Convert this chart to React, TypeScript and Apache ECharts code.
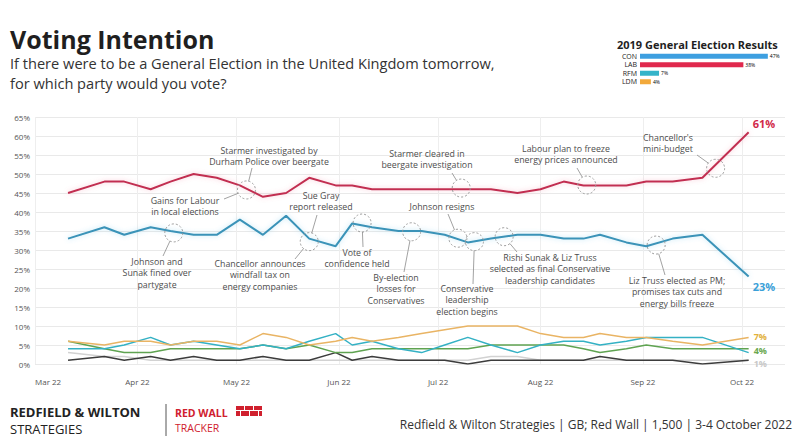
import React, { useEffect, useRef } from "react";
import * as echarts from "echarts";

// ---------- data ----------
const pollDates = [
  "2022-03-11", "2022-03-22", "2022-03-28", "2022-04-05", "2022-04-11", "2022-04-18",
  "2022-04-25", "2022-05-02", "2022-05-09", "2022-05-16", "2022-05-23", "2022-05-31",
  "2022-06-05", "2022-06-11", "2022-06-19", "2022-06-26", "2022-07-03", "2022-07-10",
  "2022-07-17", "2022-07-25", "2022-08-01", "2022-08-08", "2022-08-14", "2022-08-19",
  "2022-08-27", "2022-09-02", "2022-09-10", "2022-09-19", "2022-10-03",
];
const LAB = [45, 48, 48, 46, 48, 50, 49, 47, 44, 45, 49, 47, 47, 46, 46, 46, 46, 46, 46, 45, 46, 48, 47, 47, 47, 48, 48, 49, 61];
const CON = [33, 36, 34, 36, 35, 34, 34, 38, 34, 39, 33, 31, 37, 36, 35, 35, 34, 32, 33, 34, 34, 33, 33, 34, 32, 31, 33, 34, 23];
const LDM = [6, 5, 6, 6, 5, 6, 6, 5, 8, 7, 5, 6, 7, 6, 7, 8, 9, 10, 10, 10, 8, 7, 7, 8, 7, 7, 6, 5, 7];
const GRN = [6, 4, 3, 3, 4, 4, 4, 4, 5, 4, 5, 3, 3, 4, 4, 4, 4, 4, 5, 5, 5, 5, 4, 3, 4, 5, 4, 4, 4];
const RFM = [4, 4, 5, 7, 5, 6, 5, 4, 5, 4, 6, 8, 5, 6, 4, 3, 5, 7, 5, 3, 5, 6, 6, 5, 6, 7, 7, 7, 3];
const OTH = [1, 2, 1, 2, 1, 2, 1, 1, 2, 1, 1, 3, 1, 2, 1, 1, 1, 0, 1, 1, 1, 1, 1, 2, 1, 1, 1, 0, 1];
const OTH2 = [3, 2, 2, 1, 1, 1, 1, 1, 1, 1, 1, 1, 1, 1, 1, 1, 1, 1, 2, 2, 1, 1, 1, 1, 1, 1, 1, 1, 1];

const monthStarts = ["2022-03-01", "2022-04-01", "2022-05-01", "2022-06-01", "2022-07-01", "2022-08-01", "2022-09-01", "2022-10-01"];
const monthLabels = ["Mar 22", "Apr 22", "May 22", "Jun 22", "Jul 22", "Aug 22", "Sep 22", "Oct 22"];
const axisEndDate = "2022-10-14";

const ge2019Parties = ["CON", "LAB", "RFM", "LDM"];
const ge2019Values = [47, 38, 7, 4];
const ge2019Colors = ["#3d9fe0", "#e0294d", "#35b4c9", "#f2a93b"];

const annotations = [
  { lines: ["Starmer investigated by", "Durham Police over beergate"], tx: 269, ty: 146, from: [252, 168], date: "2022-05-04", value: 45.8, circle: true },
  { lines: ["Gains for Labour", "in local elections"], tx: 185, ty: 196, from: [224, 199], date: "2022-05-04", value: 45.8, circle: false },
  { lines: ["Johnson and", "Sunak fined over", "partygate"], tx: 157, ty: 257, from: [163, 256], date: "2022-04-12", value: 34.5, circle: true },
  { lines: ["Chancellor announces", "windfall tax on", "energy companies"], tx: 260, ty: 259, from: [295, 259], date: "2022-05-23", value: 32.2, circle: true },
  { lines: ["Sue Gray", "report released"], tx: 321, ty: 191, from: [317, 215], date: "2022-05-23", value: 32.2, circle: false },
  { lines: ["Vote of", "confidence held"], tx: 357, ty: 248, from: [363, 247], date: "2022-06-08", value: 37.1, circle: true },
  { lines: ["By-election", "losses for", "Conservatives"], tx: 396, ty: 273, from: [404, 272], date: "2022-06-23", value: 34.8, circle: true },
  { lines: ["Starmer cleared in", "beergate investigation"], tx: 427, ty: 149, from: [452, 173], date: "2022-07-08", value: 46.3, circle: true },
  { lines: ["Johnson resigns"], tx: 442, ty: 202, from: [448, 214], date: "2022-07-07", value: 33.1, circle: true },
  { lines: ["Conservative", "leadership", "election begins"], tx: 467, ty: 284, from: [473, 284], date: "2022-07-12", value: 32.2, circle: true },
  { lines: ["Rishi Sunak & Liz Truss", "selected as final Conservative", "leadership candidates"], tx: 550, ty: 253, from: [517, 252], date: "2022-07-21", value: 33.5, circle: true },
  { lines: ["Labour plan to freeze", "energy prices announced"], tx: 566, ty: 144, from: [577, 168], date: "2022-08-15", value: 47.1, circle: true },
  { lines: ["Liz Truss elected as PM;", "promises tax cuts and", "energy bills freeze"], tx: 677, ty: 276, from: [665, 275], date: "2022-09-05", value: 31.3, circle: true },
  { lines: ["Chancellor's", "mini-budget"], tx: 668, ty: 133, from: [697, 155], date: "2022-09-23", value: 51.5, circle: true },
];

// ---------- helpers ----------
const BASE = Date.UTC(2022, 2, 1);
const dayOf = (s: string) => {
  const [y, m, d] = s.split("-").map(Number);
  return Math.round((Date.UTC(y, m - 1, d) - BASE) / 86400000);
};
const pollDays = pollDates.map(dayOf);
const monthDays = monthStarts.map(dayOf);
const FONT = "'Open Sans', 'DejaVu Sans', sans-serif";

const lineSeries = (
  name: string,
  values: number[],
  color: string,
  width: number,
  z: number,
  shadow?: string,
  endLabel?: { color: string; offset: number[]; size: number }
) => ({
  type: "line",
  name,
  xAxisIndex: 0,
  yAxisIndex: 0,
  data: pollDays.map((d, i) => [d, values[i]]),
  symbol: "none",
  z,
  lineStyle: {
    color,
    width,
    ...(shadow ? { shadowColor: shadow, shadowBlur: 5 } : {}),
  },
  endLabel: endLabel
    ? {
        show: true,
        formatter: (p: any) => `${p.value[1]}%`,
        color: endLabel.color,
        fontSize: endLabel.size,
        lineHeight: endLabel.size,
        fontWeight: "bold",
        fontFamily: FONT,
        offset: endLabel.offset,
      }
    : { show: false },
});

const txt = (text: string, x: number, y: number, size: number, fill: string, extra: any = {}) => ({
  type: "text",
  style: { text, x, y, verticalAlign: "middle", fontSize: size, lineHeight: size, fontFamily: FONT, fill, ...extra },
});

export default function App() {
  const ref = useRef<HTMLDivElement>(null);

  useEffect(() => {
    if (!ref.current) return;
    const chart = echarts.init(ref.current, undefined, { renderer: "svg" });

    const staticGraphics: any[] = [
      txt("Voting Intention", 10, 39, 25, "#1f1f1f", { fontWeight: "bold" }),
      txt("If there were to be a General Election in the United Kingdom tomorrow,", 10, 63, 14.6, "#333"),
      txt("for which party would you vote?", 10, 82.5, 14.6, "#333"),
      txt("2019 General Election Results", 617, 44, 11, "#1f1f1f", { fontWeight: "bold" }),
      // footer
      txt("REDFIELD & WILTON", 10, 412, 13, "#222", { fontWeight: "bold" }),
      txt("STRATEGIES", 10, 428.5, 13, "#222"),
      { type: "line", shape: { x1: 166, y1: 404, x2: 166, y2: 436 }, style: { stroke: "#555", lineWidth: 1 } },
      txt("RED WALL", 175, 413, 10.5, "#d0202e", { fontWeight: "bold" }),
      txt("TRACKER", 175, 428, 10.5, "#d0202e"),
      { type: "rect", shape: { x: 236, y: 406, width: 8, height: 4 }, style: { fill: "#d0202e" } },
      { type: "rect", shape: { x: 245, y: 406, width: 8, height: 4 }, style: { fill: "#d0202e" } },
      { type: "rect", shape: { x: 254, y: 406, width: 8, height: 4 }, style: { fill: "#d0202e" } },
      { type: "rect", shape: { x: 236, y: 411, width: 4, height: 5 }, style: { fill: "#d0202e" } },
      { type: "rect", shape: { x: 241, y: 411, width: 8, height: 5 }, style: { fill: "#d0202e" } },
      { type: "rect", shape: { x: 250, y: 411, width: 8, height: 5 }, style: { fill: "#d0202e" } },
      { type: "rect", shape: { x: 259, y: 411, width: 3, height: 5 }, style: { fill: "#d0202e" } },
      txt("Redfield & Wilton Strategies | GB; Red Wall | 1,500 | 3-4 October 2022", 792, 424, 12, "#333", { align: "right" }),
    ];

    const option: any = {
      animation: false,
      backgroundColor: "#ffffff",
      textStyle: { fontFamily: FONT },
      grid: [
        { left: 35, right: 15, top: 117, bottom: 79, outerBoundsMode: "none" },
        { left: 640, top: 52, width: 136, height: 34, outerBoundsMode: "none" },
      ],
      xAxis: [
        {
          type: "value",
          gridIndex: 0,
          min: 0,
          max: dayOf(axisEndDate),
          axisLine: { show: false },
          axisTick: { show: false, customValues: monthDays },
          splitLine: { show: true, lineStyle: { color: "#eeeeee", width: 1 } },
          axisLabel: {
            customValues: monthDays,
            formatter: (v: number) => monthLabels[monthDays.indexOf(v)] ?? "",
            color: "#555",
            fontSize: 8,
            margin: 13,
            fontFamily: FONT,
            alignMinLabel: "left",
          },
        },
        { type: "value", gridIndex: 1, min: 0, max: 50, show: false },
      ],
      yAxis: [
        {
          type: "value",
          gridIndex: 0,
          min: 0,
          max: 65,
          interval: 5,
          axisLine: { show: false },
          axisTick: { show: false },
          splitLine: { lineStyle: { color: "#e9e9e9", width: 1 } },
          axisLabel: { formatter: "{value}%", color: "#555", fontSize: 8, margin: 5, fontFamily: FONT },
        },
        {
          type: "category",
          gridIndex: 1,
          data: ge2019Parties,
          inverse: true,
          axisLine: { show: false },
          axisTick: { show: false },
          axisLabel: { interval: 0, color: "#222", fontSize: 7, lineHeight: 7, margin: 3, fontFamily: FONT },
        },
      ],
      series: [
        lineSeries("OTH2", OTH2, "#d2d2d2", 1.5, 2, undefined, { color: "#c8c8c8", offset: [-3, 3], size: 9 }),
        lineSeries("OTH", OTH, "#3c3c3c", 1.5, 3),
        lineSeries("GRN", GRN, "#5fa351", 1.5, 4, undefined, { color: "#6aa84f", offset: [-3, 2], size: 9 }),
        lineSeries("RFM", RFM, "#34b1c4", 1.5, 5),
        lineSeries("LDM", LDM, "#e9b464", 1.5, 6, undefined, { color: "#e2b13c", offset: [-3, -1], size: 9 }),
        lineSeries("CON", CON, "#3a93b8", 2, 7, "rgba(90,190,230,0.4)", { color: "#3aa0d8", offset: [-4, 10], size: 11 }),
        lineSeries("LAB", LAB, "#c22f51", 2, 8, "rgba(240,120,150,0.4)", { color: "#d12a4a", offset: [-4, -9], size: 11 }),
        {
          type: "bar",
          name: "GE2019",
          xAxisIndex: 1,
          yAxisIndex: 1,
          barWidth: 5,
          data: ge2019Values.map((v, i) => ({ value: v, itemStyle: { color: ge2019Colors[i] } })),
          label: {
            show: true,
            position: "right",
            distance: 2,
            formatter: "{c}%",
            fontSize: 5,
            lineHeight: 5,
            color: (p: any) => ge2019Colors[p.dataIndex],
          },
        },
      ],
      graphic: staticGraphics,
    };

    chart.setOption(option);

    // annotations anchored to data coordinates
    const R = 9;
    const LH = 11.5;
    const annGfx: any[] = [];
    annotations.forEach((a) => {
      const [cx, cy] = chart.convertToPixel({ gridIndex: 0 }, [dayOf(a.date), a.value]) as number[];
      a.lines.forEach((line, li) => {
        annGfx.push({
          type: "text",
          z: 20,
          style: {
            text: line,
            x: a.tx,
            y: a.ty + li * LH,
            align: "center",
            verticalAlign: "top",
            fontSize: 8.8,
            lineHeight: 9.5,
            fontFamily: FONT,
            fill: "#4d4d4d",
          },
        });
      });
      if (a.circle) {
        annGfx.push({
          type: "circle",
          z: 20,
          shape: { cx, cy, r: R },
          style: { fill: "none", stroke: "#9a9a9a", lineWidth: 1, lineDash: [2, 2] },
        });
      }
      const [fx, fy] = a.from;
      const dx = cx - fx;
      const dy = cy - fy;
      const len = Math.sqrt(dx * dx + dy * dy) || 1;
      annGfx.push({
        type: "line",
        z: 20,
        shape: { x1: fx, y1: fy, x2: cx - (dx / len) * R, y2: cy - (dy / len) * R },
        style: { stroke: "#8a8a8a", lineWidth: 0.8 },
      });
    });
    chart.setOption({ graphic: [...staticGraphics, ...annGfx] });

    return () => chart.dispose();
  }, []);

  return (
    <div
      ref={ref}
      style={{ position: "fixed", left: 0, top: 0, width: 800, height: 443, background: "#fff" }}
    />
  );
}
